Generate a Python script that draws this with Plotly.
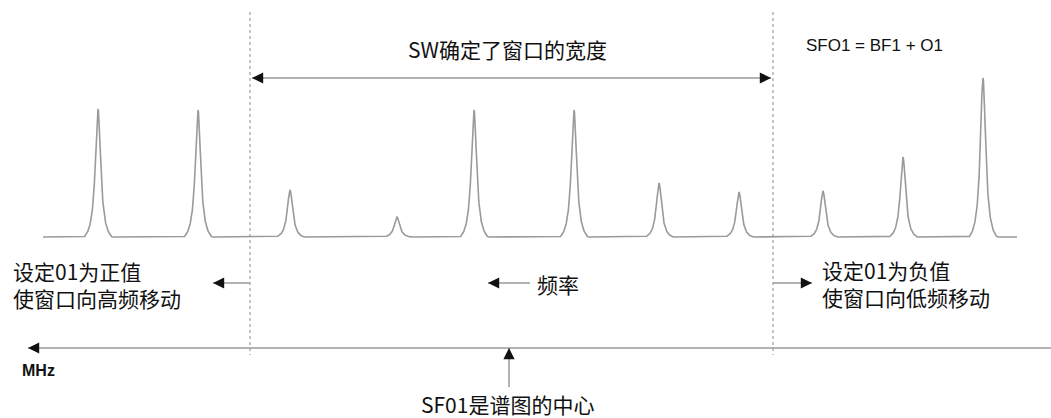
import numpy as np
import plotly.graph_objects as go

# ---- data (schematic frequency axis, in drawing units) ----
peak_pos = [98, 198, 290, 397, 474, 574, 659, 739, 823, 903, 983]
peak_height = [128, 127, 47, 20, 127, 127, 54, 45, 46, 80, 159]
baseline = 237
spec_start, spec_end = 43, 1017
window_left, window_right = 250, 773
center_freq = 509
axis_y = 348

title_text = "SW确定了窗口的宽度"
formula_text = "SFO1 = BF1 + O1"
left_lines = ["设定01为正值", "使窗口向高频移动"]
right_lines = ["设定01为负值", "使窗口向低频移动"]
freq_label = "频率"
unit_label = "MHz"
center_label = "SF01是谱图的中心"

# ---- build spectrum line from the peak list ----
W, H = 1051, 418
g, w = 3.3, 14.0
xs = np.arange(spec_start, spec_end + 0.25, 0.25)
ys = np.full_like(xs, float(baseline))
Lw = 1.0 / (1.0 + (w / g) ** 2)
for c, h in zip(peak_pos, peak_height):
    d = xs - c
    L = 1.0 / (1.0 + (d / g) ** 2)
    shape = np.where(np.abs(d) < w, (L - Lw) / (1 - Lw), 0.0)
    ys = ys - h * shape

fig = go.Figure()
fig.add_trace(go.Scatter(x=xs, y=ys, mode="lines",
                         line=dict(color="#9a9a9a", width=1.6),
                         hoverinfo="skip", showlegend=False))

shapes = []
# dotted window boundaries
for xv in (window_left, window_right):
    shapes.append(dict(type="line", xref="x", yref="y", x0=xv, x1=xv, y0=12, y1=355,
                       line=dict(color="#8a8a8a", width=1, dash="dot")))
# gray arrow shafts
gray = "#9a9a9a"
shafts = [
    (window_left + 2, 78, window_right - 2, 78),     # SW width
    (28, axis_y, W, axis_y),                          # MHz axis
    (center_freq, axis_y, center_freq, 387),          # centre
    (213, 283, window_left, 283),                     # left
    (window_right, 283, 812, 283),                    # right
    (488, 283, 530, 283),                             # freq
]
for x0, y0, x1, y1 in shafts:
    shapes.append(dict(type="line", xref="x", yref="y", x0=x0, y0=y0, x1=x1, y1=y1,
                       line=dict(color=gray, width=1.5)))

annotations = []

def head(xt, yt, dx, dy):
    annotations.append(dict(x=xt, y=yt, ax=xt + dx, ay=yt + dy, xref="x", yref="y",
                            axref="x", ayref="y", text="", showarrow=True,
                            arrowhead=2, arrowsize=1.4, arrowwidth=1.6,
                            arrowcolor="#111111", standoff=0))

head(window_left + 2, 78, 12, 0)
head(window_right - 2, 78, -12, 0)
head(28, axis_y, 12, 0)
head(center_freq, axis_y, 0, 12)
head(213, 283, 12, 0)
head(812, 283, -12, 0)
head(488, 283, 12, 0)

cjk = "Noto Sans CJK SC"

def txt(x, y, s, size=21, anchor="left", family=cjk, color="#111111"):
    annotations.append(dict(x=x, y=y, xref="x", yref="y", text=s, showarrow=False,
                            xanchor=anchor, yanchor="middle", align="left",
                            font=dict(family=family, size=size, color=color)))

txt(507, 49, title_text, anchor="center")
txt(874, 45, formula_text, size=17, anchor="center", family="Liberation Sans")
txt(11, 284.5, "<br>".join(left_lines))
txt(820, 283, "<br>".join(right_lines))
txt(535, 284, freq_label)
txt(20, 370, "<b>" + unit_label + "</b>", size=16, family="Liberation Sans")
txt(507, 404, center_label, anchor="center")

fig.update_layout(
    width=W, height=H,
    margin=dict(l=0, r=0, t=0, b=0),
    paper_bgcolor="white", plot_bgcolor="white",
    xaxis=dict(range=[0, W], visible=False, fixedrange=True),
    yaxis=dict(range=[H, 0], visible=False, fixedrange=True),
    shapes=shapes, annotations=annotations, showlegend=False,
)

fig.write_html("out.html", config={"displayModeBar": False},
               post_script="document.body.style.margin='0';document.body.style.overflow='hidden';")
